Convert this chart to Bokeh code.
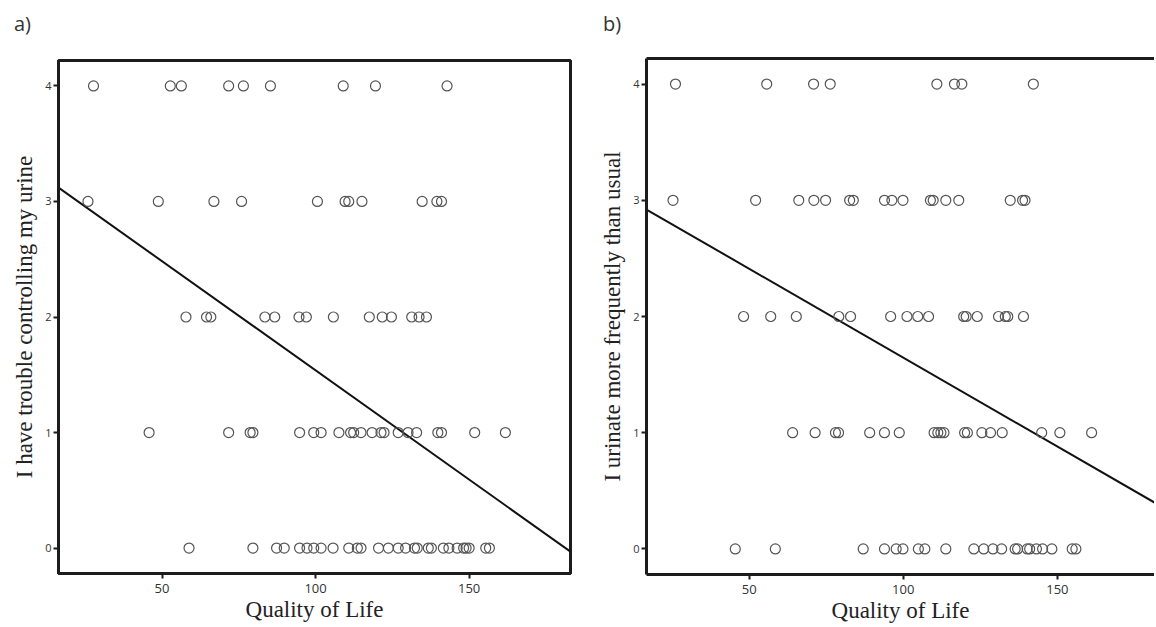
from bokeh.plotting import figure
from bokeh.layouts import row, column
from bokeh.models import Div, LinearAxis, FixedTicker
from bokeh.embed import file_html
from bokeh.resources import INLINE

# ---------------- data (Quality of Life score per answer level) ----------------
levels = [0, 1, 2, 3, 4]
x_ticks = [50, 100, 150]

a_title = "a)"
a_ylabel = "I have trouble controlling my urine"
a_lvl0 = [58.8, 79.6, 87.3, 89.8, 94.8, 97.2, 99.4, 101.8, 105.7, 110.8, 113.6, 114.8,
          120.5, 123.7, 126.9, 129.3, 132.2, 133.1, 136.7, 137.7, 141.6, 143.4, 146.1,
          148.2, 149.0, 150.0, 155.4, 156.6]
a_lvl1 = [45.8, 71.7, 78.7, 79.6, 94.8, 99.4, 101.8, 107.6, 111.4, 112.4, 114.8, 118.4,
          121.3, 122.3, 126.9, 130.1, 132.9, 139.8, 141.0, 151.8, 161.8]
a_lvl2 = [57.8, 64.5, 65.9, 83.5, 86.7, 94.6, 97.0, 105.8, 117.5, 121.7, 124.7, 131.3,
          133.7, 136.1]
a_lvl3 = [25.9, 48.8, 66.9, 75.9, 100.6, 109.6, 110.8, 115.1, 134.7, 139.5, 141.0]
a_lvl4 = [27.7, 52.7, 56.3, 71.7, 76.5, 85.3, 109.0, 119.5, 142.8]
a_fit_intercept = 3.428
a_fit_slope = -0.0189

b_title = "b)"
b_ylabel = "I urinate more frequently than usual"
b_lvl0 = [45.5, 58.5, 87.0, 93.9, 97.7, 99.9, 104.9, 107.0, 113.8, 122.9, 126.1, 129.1,
          131.9, 136.3, 137.1, 140.2, 141.0, 143.2, 145.2, 148.2, 154.8, 156.0]
b_lvl1 = [64.1, 71.4, 78.0, 79.0, 89.1, 93.9, 98.7, 110.0, 111.2, 112.2, 113.2, 119.9,
          120.8, 125.5, 128.3, 132.1, 144.9, 150.8, 161.1]
b_lvl2 = [48.2, 57.0, 65.3, 79.1, 82.9, 95.9, 101.2, 104.7, 108.2, 119.6, 120.4, 124.0,
          130.9, 133.1, 133.9, 139.0]
b_lvl3 = [25.3, 52.1, 66.1, 71.0, 74.8, 82.6, 83.8, 93.9, 96.3, 99.9, 108.8, 109.7, 113.8,
          118.0, 134.7, 138.7, 139.5]
b_lvl4 = [26.1, 55.7, 70.9, 76.3, 110.9, 116.6, 119.0, 142.2]
b_fit_intercept = 3.176
b_fit_slope = -0.0153

x_label = "Quality of Life"

AXIS_COLOR = "#1c1c1c"
HEAD_H = 40
FIG_H = 586


def style(p, ylabel):
    p.xaxis.axis_label = x_label
    p.yaxis.axis_label = ylabel
    for ax in (p.xaxis, p.yaxis):
        ax.axis_line_width = 3
        ax.axis_line_color = AXIS_COLOR
        ax.major_tick_line_width = 2
        ax.major_tick_line_color = AXIS_COLOR
        ax.major_tick_in = 0
        ax.major_tick_out = 5
        ax.minor_tick_line_color = None
        ax.major_label_text_font = "Open Sans"
        ax.major_label_text_color = "#333333"
        ax.axis_label_text_font = "Liberation Serif"
        ax.axis_label_text_font_style = "normal"
        ax.axis_label_text_font_size = "23px"
        ax.axis_label_text_color = "#222222"
    p.xaxis.major_label_text_font_size = "13px"
    p.yaxis.major_label_text_font_size = "11px"
    p.xaxis.ticker = FixedTicker(ticks=x_ticks)
    p.yaxis.ticker = FixedTicker(ticks=levels)
    p.xaxis.major_label_standoff = 5
    p.yaxis.major_label_standoff = 2
    p.xaxis.axis_label_standoff = 1
    p.yaxis.axis_label_standoff = 5
    p.xgrid.grid_line_color = None
    p.ygrid.grid_line_color = None
    p.background_fill_color = "white"
    p.border_fill_color = "white"


def panel(title, ylabel, groups, icpt, slope, xr, width, mbl, mbr, frame_top, frame_bottom,
          outline, pad_left):
    p = figure(width=width, height=FIG_H, x_range=xr, y_range=(-0.22, 4.22),
               min_border_left=mbl, min_border_right=mbr,
               min_border_top=frame_top - HEAD_H,
               min_border_bottom=HEAD_H + FIG_H - frame_bottom, output_backend="svg",
               toolbar_location=None, margin=0)
    style(p, ylabel)
    if outline:
        p.outline_line_color = AXIS_COLOR
        p.outline_line_width = 3
    else:
        p.outline_line_color = None
        top = LinearAxis(ticker=FixedTicker(ticks=[]), axis_line_width=3,
                         axis_line_color=AXIS_COLOR, major_label_text_font_size="0px",
                         minor_tick_line_color=None, major_tick_line_color=None)
        p.add_layout(top, "above")
    xs, ys = [], []
    for lvl, vals in zip(levels, groups):
        xs += vals
        ys += [lvl] * len(vals)
    p.line([xr[0], xr[1]], [icpt + slope * xr[0], icpt + slope * xr[1]],
           line_color="#111111", line_width=2)
    p.scatter(xs, ys, marker="circle", size=10, fill_color=None,
              line_color="#555555", line_width=1.2)
    head = Div(text=title, width=width, height=HEAD_H, margin=0,
               styles={"font-family": "Open Sans", "font-size": "20px",
                       "line-height": "20px", "color": "#333333",
                       "padding-top": "14px", "padding-left": f"{pad_left}px",
                       "box-sizing": "border-box", "background": "white"})
    return column(head, p, spacing=0, margin=0)


pa = panel(a_title, a_ylabel, [a_lvl0, a_lvl1, a_lvl2, a_lvl3, a_lvl4],
           a_fit_intercept, a_fit_slope, (16.3, 183.0), 597, 58, 27, 60, 573, True, 14)
pb = panel(b_title, b_ylabel, [b_lvl0, b_lvl1, b_lvl2, b_lvl3, b_lvl4],
           b_fit_intercept, b_fit_slope, (16.7, 181.5), 557, 49, 0, 58, 574, False, 6)

layout = row(pa, pb, spacing=0, margin=0)
open("out.html", "w").write(file_html(layout, INLINE))
